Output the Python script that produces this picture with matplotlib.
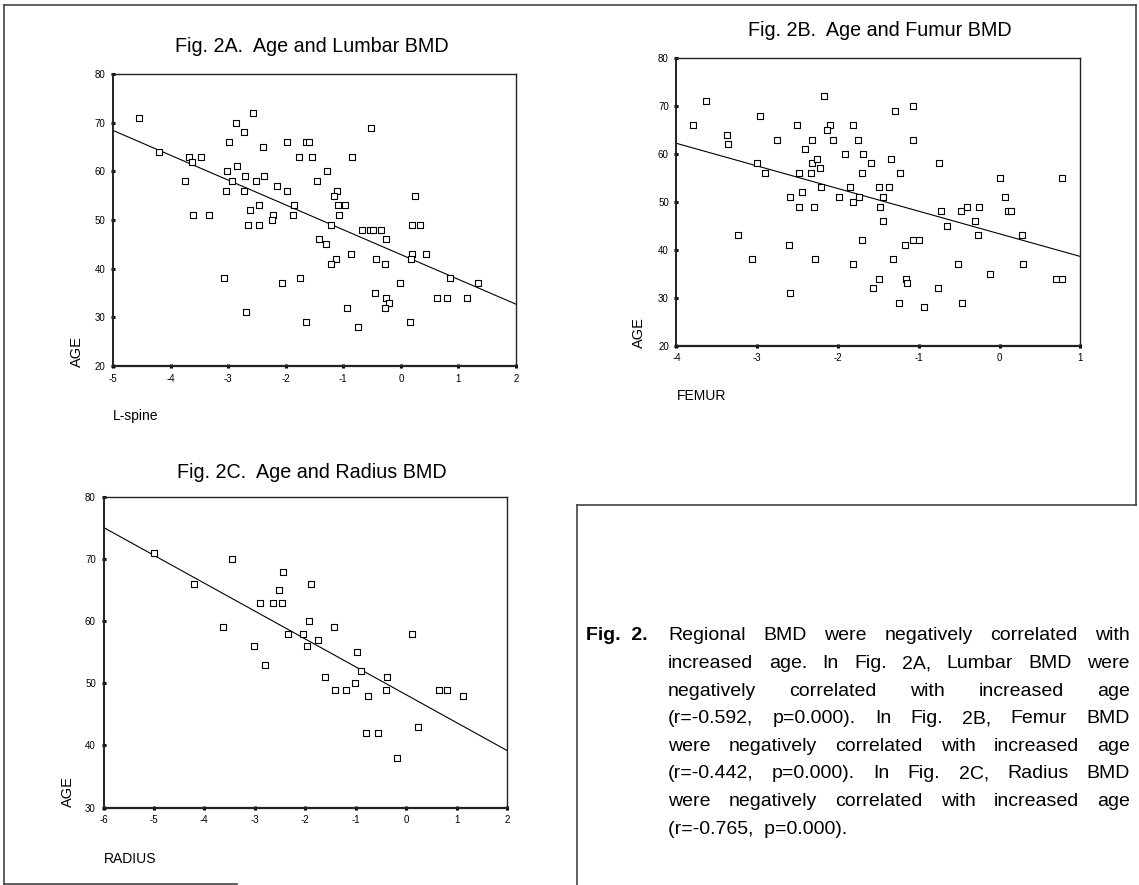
import matplotlib
matplotlib.use("Agg")
import matplotlib.pyplot as plt
from matplotlib.lines import Line2D
import numpy as np

plt.rcParams['font.family'] = ['Liberation Sans', 'DejaVu Sans']

W, H = 1139, 885

# ---------------- Data ----------------
# Fig 2A: L-spine T-score vs AGE
lspine_x = [-4.55, -2.56, -2.87, -2.73, -0.51, -4.20, -3.68, -3.48, -3.63, -2.98,
            -2.40, -1.98, -1.65, -1.59, -1.77, -1.54, -0.85, -3.75, -3.02, -2.84,
            -2.71, -2.93, -3.04, -2.73, -2.52, -2.38, -2.16, -1.98, -1.29, -1.45,
            -1.11, -1.16, -3.61, -3.34, -2.62, -2.47, -2.65, -2.46, -2.22, -2.24,
            -1.85, -1.88, -1.10, -0.97, -1.07, -1.22, -0.68, -0.53, -0.49, -0.35,
            0.24, 0.20, 0.34, -1.42, -1.30, -0.26, -0.86, -1.12, -1.22, -0.43,
            -0.27, 0.19, 0.18, 0.43, -3.08, -1.76, -2.06, -0.01, 0.86, 1.34,
            -0.45, -0.25, -0.21, -0.28, -0.94, 0.63, 0.81, 1.15, -2.69, -1.65,
            0.16, -0.75]
lspine_age = [71, 72, 70, 68, 69, 64, 63, 63, 62, 66,
              65, 66, 66, 66, 63, 63, 63, 58, 60, 61,
              59, 58, 56, 56, 58, 59, 57, 56, 60, 58,
              56, 55, 51, 51, 52, 53, 49, 49, 51, 50,
              53, 51, 53, 53, 51, 49, 48, 48, 48, 48,
              55, 49, 49, 46, 45, 46, 43, 42, 41, 42,
              41, 43, 42, 43, 38, 38, 37, 37, 38, 37,
              35, 34, 33, 32, 32, 34, 34, 34, 31, 29,
              29, 28]
# regression line: [age at left end of x-range, slope]
lspine_fit = [68.4, -5.1]

# Fig 2B: Femur T-score vs AGE
femur_x = [-3.79, -3.64, -2.97, -3.38, -3.36, -2.76, -3.00, -2.90, -2.51, -2.18,
           -2.10, -2.14, -2.32, -2.06, -1.82, -2.41, -1.91, -1.75, -1.69, -1.59,
           -2.32, -2.26, -2.23, -2.34, -2.48, -1.71, -1.35, -1.30, -1.07, -1.07,
           -1.23, -0.75, -2.60, -2.45, -2.49, -2.30, -2.21, -1.99, -1.85, -1.82,
           -1.74, -1.49, -1.37, -1.44, -1.48, -1.45, -0.73, -0.48, -0.40, -0.25,
           -0.30, -0.65, 0.00, 0.07, 0.10, 0.14, 0.77, -3.24, -2.61, -3.06,
           -2.28, -1.71, -1.81, -1.32, -1.17, -1.07, -1.00, -0.27, 0.27, 0.29,
           -0.52, -0.12, -1.49, -1.57, -1.16, -1.15, -2.60, -1.25, -0.94, -0.76,
           -0.47, 0.70, 0.77]
femur_age = [66, 71, 68, 64, 62, 63, 58, 56, 66, 72,
             66, 65, 63, 63, 66, 61, 60, 63, 60, 58,
             58, 59, 57, 56, 56, 56, 59, 69, 70, 63,
             56, 58, 51, 52, 49, 49, 53, 51, 53, 50,
             51, 53, 53, 51, 49, 46, 48, 48, 49, 49,
             46, 45, 55, 51, 48, 48, 55, 43, 41, 38,
             38, 42, 37, 38, 41, 42, 42, 43, 43, 37,
             37, 35, 34, 32, 34, 33, 31, 29, 28, 32,
             29, 34, 34]
femur_fit = [62.2, -4.72]

# Fig 2C: Radius T-score vs AGE
radius_x = [-4.99, -3.46, -4.21, -2.44, -1.88, -2.53, -2.90, -2.64, -2.47, -3.63,
            -1.92, -1.43, -2.35, -2.04, -1.74, -1.96, -3.02, 0.12, -2.80, -0.98,
            -0.89, -1.61, -0.37, -1.01, -1.42, -1.20, -0.40, -0.75, 0.65, 0.82,
            1.12, 0.24, -0.79, -0.56, -0.19]
radius_age = [71, 70, 66, 68, 66, 65, 63, 63, 63, 59,
              60, 59, 58, 58, 57, 56, 56, 58, 53, 55,
              52, 51, 51, 50, 49, 49, 49, 48, 49, 49,
              48, 43, 42, 42, 38]
radius_fit = [75.1, -4.49]

panels = [
    dict(x=lspine_x, y=lspine_age, fit=lspine_fit, xlim=(-5, 2), ylim=(20, 80),
         xticks=[-5, -4, -3, -2, -1, 0, 1, 2], yticks=[20, 30, 40, 50, 60, 70, 80],
         box=(113, 74, 516, 366), title="Fig. 2A.  Age and Lumbar BMD", title_xy=(312, 47),
         xlabel="L-spine", xlabel_xy=(113, 416), ylabel_xy=(77, 352)),
    dict(x=femur_x, y=femur_age, fit=femur_fit, xlim=(-4, 1), ylim=(20, 80),
         xticks=[-4, -3, -2, -1, 0, 1], yticks=[20, 30, 40, 50, 60, 70, 80],
         box=(676.5, 58, 1080.5, 345.7), title="Fig. 2B.  Age and Fumur BMD", title_xy=(880, 31),
         xlabel="FEMUR", xlabel_xy=(677, 396), ylabel_xy=(639, 333)),
    dict(x=radius_x, y=radius_age, fit=radius_fit, xlim=(-6, 2), ylim=(30, 80),
         xticks=[-6, -5, -4, -3, -2, -1, 0, 1, 2], yticks=[30, 40, 50, 60, 70, 80],
         box=(103.5, 497, 507, 807.5), title="Fig. 2C.  Age and Radius BMD", title_xy=(312, 472),
         xlabel="RADIUS", xlabel_xy=(104, 859), ylabel_xy=(68, 792)),
]

caption_head = "Fig.  2."
caption_lines = [
    "Regional BMD were negatively correlated with",
    "increased age. In Fig. 2A, Lumbar BMD were",
    "negatively correlated with increased age",
    "(r=-0.592,  p=0.000).   In Fig. 2B, Femur BMD",
    "were negatively correlated with increased age",
    "(r=-0.442,  p=0.000). In Fig. 2C, Radius BMD",
    "were negatively correlated with increased age",
    "(r=-0.765,  p=0.000).",
]

# ---------------- Figure ----------------
fig = plt.figure(figsize=(W / 100, H / 100), dpi=100)
fig.patch.set_facecolor('white')

def fx(px):
    return px / W

def fy(py):
    return 1 - py / H

for p in panels:
    x0, y0, x1, y1 = p['box']
    ax = fig.add_axes([fx(x0), fy(y1), (x1 - x0) / W, (y1 - y0) / H])
    ax.scatter(p['x'], p['y'], marker='s', s=14, facecolors='white',
               edgecolors='black', linewidths=0.8, zorder=3, clip_on=False)
    xl = np.array(p['xlim'], dtype=float)
    a0, slope = p['fit']
    yl = a0 + slope * (xl - xl[0])
    ax.plot(xl, yl, color='black', lw=0.8, zorder=2)
    ax.set_xlim(*p['xlim'])
    ax.set_ylim(*p['ylim'])
    ax.set_xticks(p['xticks'])
    ax.set_yticks(p['yticks'])
    ax.set_xticklabels([str(v) for v in p['xticks']])
    ax.set_yticklabels([str(v) for v in p['yticks']])
    ax.tick_params(axis='both', direction='inout', length=3, width=2.2,
                   labelsize=7, color='black', pad=4)
    for s in ax.spines.values():
        s.set_linewidth(1.0)
        s.set_color('#222222')
    ax.spines['bottom'].set_linewidth(1.6)
    ax.spines['left'].set_linewidth(1.4)
    fig.text(fx(p['title_xy'][0]), fy(p['title_xy'][1]), p['title'],
             ha='center', va='center', fontsize=14.2)
    fig.text(fx(p['xlabel_xy'][0]), fy(p['xlabel_xy'][1]), p['xlabel'],
             ha='left', va='center', fontsize=10)
    fig.text(fx(p['ylabel_xy'][0]), fy(p['ylabel_xy'][1]), "AGE",
             ha='center', va='center', rotation=90, fontsize=10.5)

# ---------------- Frame lines ----------------
lc = '#444444'
frame = [
    ((4, 5), (4, 884)),
    ((4, 5), (1136, 5)),
    ((1136, 5), (1136, 505)),
    ((577, 505), (1136, 505)),
    ((577, 505), (577, 885)),
    ((4, 884), (237, 884)),
]
for (xa, ya), (xb, yb) in frame:
    fig.add_artist(Line2D([fx(xa), fx(xb)], [fy(ya), fy(yb)], color=lc, lw=1.2))

# ---------------- Caption (justified) ----------------
fig.canvas.draw()
renderer = fig.canvas.get_renderer()
cap_fs = 14
cap_left_head = 586
cap_left = 668
cap_right = 1130
line_y0 = 636
line_dy = 27.6

def text_w(s, **kw):
    t = fig.text(0, 0, s, fontsize=cap_fs, **kw)
    w = t.get_window_extent(renderer=renderer).width
    t.remove()
    return w

fig.text(fx(cap_left_head), fy(line_y0), caption_head, ha='left', va='center',
         fontsize=cap_fs, fontweight='bold')

for i, line in enumerate(caption_lines):
    yy = line_y0 + i * line_dy
    words = line.split()
    if i == len(caption_lines) - 1 or len(words) < 2:
        fig.text(fx(cap_left), fy(yy), line, ha='left', va='center', fontsize=cap_fs)
        continue
    widths = [text_w(w) for w in words]
    gap = (cap_right - cap_left - sum(widths)) / (len(words) - 1)
    xx = cap_left
    for w, ww in zip(words, widths):
        fig.text(fx(xx), fy(yy), w, ha='left', va='center', fontsize=cap_fs)
        xx += ww + gap

fig.savefig("out.png", dpi=100, facecolor='white')
